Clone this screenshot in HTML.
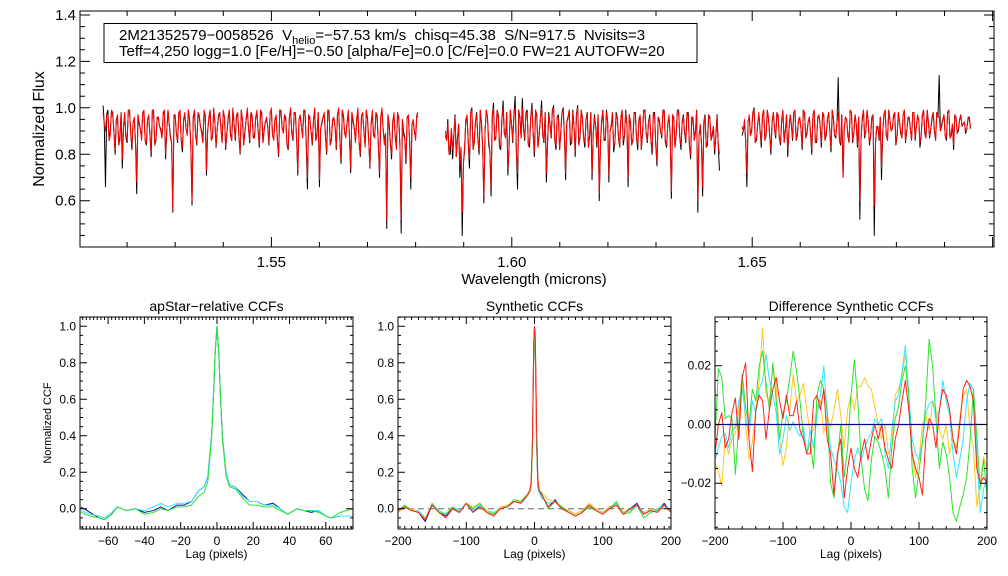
<!DOCTYPE html>
<html><head><meta charset="utf-8">
<style>
html,body{margin:0;padding:0;background:#fff;}
svg{display:block;font-family:"Liberation Sans",Arial,sans-serif;}
</style></head>
<body>
<svg id="fig" width="1008" height="576" viewBox="0 0 1008 576" xmlns="http://www.w3.org/2000/svg">
<rect x="0" y="0" width="1008" height="576" fill="#fff"/>
</svg>
<script>
// ---------- Spectrum data (wavelength grid: start + 0.0005 step; "Mid" arrays are offset by half a step) ----------
const chipStart = [1.5150, 1.5862, 1.6479];
const chipStep = 0.0005;
const c1obs = [1.01,0.66,0.99,0.90,0.97,0.80,0.96,0.88,0.74,0.97,0.85,0.99,0.82,0.95,0.63,0.93,0.87,0.98,0.84,0.96,0.79,0.99,0.86,0.95,0.91,0.97,0.78,0.99,0.88,0.55,0.96,0.85,0.98,0.81,0.97,0.89,0.94,0.58,0.99,0.84,0.96,0.90,0.98,0.71,0.95,0.87,0.99,0.83,0.96,0.92,0.98,0.82,0.95,0.89,0.99,0.86,0.97,0.80,0.94,0.90,0.99,0.85,0.96,0.88,0.98,0.83,0.97,0.91,0.95,0.84,0.99,0.87,0.96,0.79,0.98,0.90,0.95,0.82,0.99,0.86,0.97,0.71,0.96,0.88,0.98,0.65,0.95,0.84,0.99,0.89,0.66,0.93,0.97,0.80,0.98,0.87,0.95,0.82,0.99,0.76,0.96,0.88,0.98,0.72,0.94,0.86,0.99,0.79,0.97,0.84,0.95,0.74,0.98,0.88,0.96,0.70,0.99,0.85,0.48,0.93,0.78,0.97,0.83,0.95,0.46,0.90,0.76,0.96,0.65,0.94,0.87,0.98];
const c1mod = [0.98,0.90,0.97,0.88,0.98,0.82,0.97,0.86,0.78,0.98,0.86,0.99,0.84,0.96,0.68,0.94,0.86,0.99,0.85,0.97,0.81,0.99,0.87,0.96,0.90,0.98,0.80,0.99,0.87,0.56,0.97,0.86,0.99,0.83,0.98,0.88,0.95,0.60,0.99,0.85,0.97,0.89,0.99,0.73,0.96,0.86,1.00,0.84,0.97,0.91,0.99,0.83,0.96,0.88,1.00,0.87,0.98,0.81,0.95,0.89,1.00,0.86,0.97,0.87,0.99,0.84,0.98,0.90,0.96,0.85,1.00,0.86,0.97,0.80,0.99,0.89,0.96,0.83,1.00,0.87,0.98,0.73,0.97,0.87,0.99,0.70,0.96,0.85,1.00,0.88,0.69,0.94,0.98,0.81,0.99,0.86,0.96,0.83,1.00,0.78,0.97,0.87,0.99,0.74,0.95,0.85,1.00,0.80,0.98,0.83,0.96,0.75,0.99,0.87,0.97,0.72,1.00,0.84,0.52,0.92,0.80,0.98,0.82,0.96,0.52,0.88,0.78,0.97,0.70,0.95,0.86,0.96];
const c1modMid = [0.93,0.97,0.86,0.99,0.90,0.95,0.84,0.98,0.92,0.87,0.99,0.89,0.94,0.85,0.97,0.91,0.98,0.86,0.95,0.88,0.99,0.84,0.96,0.92,0.87,0.99,0.90,0.93,0.85,0.97,0.89,0.98,0.86,0.95,0.91,0.99,0.84,0.96,0.88,0.98,0.92,0.85,0.97,0.90,0.99,0.87,0.94,0.91,0.98,0.85,0.96,0.89,0.99,0.86,0.93,0.97,0.88,0.99,0.84,0.95,0.91,0.98,0.87,0.96,0.90,0.99,0.85,0.94,0.92,0.98,0.88,0.95,0.86,0.99,0.91,0.97,0.84,0.96,0.89,0.98,0.87,0.95,0.92,0.99,0.85,0.97,0.90,0.94,0.86,0.98,0.91,0.96,0.88,0.99,0.84,0.95,0.92,0.97,0.86,0.99,0.89,0.94,0.87,0.98,0.91,0.95,0.85,0.97,0.90,0.99,0.86,0.93,0.88,0.98,0.84,0.96,0.91,0.89,0.97,0.85,0.94,0.88,0.98,0.83,0.95,0.87,0.96,0.86,0.93,0.90,0.97];
const c2obs = [0.88,0.95,0.80,0.78,0.97,0.86,0.70,0.45,0.82,0.96,0.74,1.00,0.85,0.98,0.80,0.93,0.59,0.99,0.84,0.62,1.02,0.87,0.97,0.82,1.03,0.88,0.71,0.99,0.85,1.05,0.65,0.96,1.04,0.86,0.99,0.83,1.02,0.79,0.97,0.88,1.03,0.85,0.68,0.98,0.87,1.01,0.82,0.97,0.89,1.00,0.69,0.96,0.84,0.99,0.79,1.01,0.87,0.95,0.83,0.98,0.88,0.69,0.97,0.83,0.60,0.94,0.86,0.99,0.68,0.92,0.81,0.98,0.87,0.95,0.84,0.99,0.66,0.93,0.86,0.98,0.82,0.96,0.89,0.99,0.85,0.97,0.80,0.98,0.75,0.94,0.87,0.99,0.83,0.96,0.61,0.95,0.88,0.99,0.82,0.97,0.85,0.98,0.78,0.95,0.89,0.55,0.92,0.62,0.97,0.84,0.96,0.88,0.80,0.97,0.73];
const c2mod = [0.90,0.93,0.84,0.82,0.96,0.87,0.75,0.55,0.84,0.97,0.78,0.99,0.86,0.97,0.82,0.94,0.62,0.99,0.86,0.66,1.00,0.88,0.96,0.84,1.00,0.87,0.74,0.99,0.86,1.00,0.72,0.95,1.00,0.87,0.98,0.85,1.00,0.81,0.96,0.89,1.00,0.86,0.72,0.97,0.88,1.00,0.84,0.96,0.90,0.99,0.72,0.95,0.86,0.98,0.81,1.00,0.88,0.96,0.85,0.97,0.89,0.72,0.96,0.85,0.63,0.95,0.87,0.98,0.71,0.93,0.83,0.97,0.88,0.96,0.86,0.98,0.70,0.94,0.87,0.97,0.84,0.97,0.90,0.98,0.86,0.96,0.82,0.97,0.77,0.95,0.88,0.98,0.84,0.97,0.64,0.96,0.89,0.98,0.84,0.96,0.86,0.97,0.80,0.96,0.90,0.60,0.93,0.66,0.96,0.86,0.95,0.89,0.82,0.96,0.80];
const c2modMid = [0.86,0.80,0.91,0.88,0.79,0.93,0.83,0.76,0.95,0.85,0.98,0.82,0.94,0.87,0.99,0.83,0.90,0.96,0.81,0.97,0.86,0.99,0.83,0.95,0.89,0.98,0.84,0.93,0.97,0.82,0.99,0.87,0.91,0.98,0.84,0.96,0.89,0.99,0.83,0.95,0.88,0.98,0.85,0.93,0.99,0.86,0.96,0.82,0.98,0.88,0.94,0.99,0.85,0.92,0.97,0.84,0.99,0.87,0.95,0.83,0.98,0.89,0.92,0.97,0.84,0.99,0.86,0.94,0.90,0.98,0.85,0.96,0.83,0.99,0.88,0.93,0.97,0.84,0.98,0.87,0.95,0.82,0.99,0.89,0.94,0.86,0.98,0.84,0.96,0.90,0.99,0.85,0.93,0.88,0.97,0.83,0.99,0.87,0.94,0.89,0.98,0.84,0.96,0.86,0.99,0.88,0.85,0.94,0.83,0.97,0.86,0.92,0.88,0.84,0.90];
const c3obs = [0.88,0.93,0.66,0.96,0.90,1.00,0.86,0.97,0.83,0.99,0.88,0.95,0.80,0.98,0.87,0.96,0.84,0.99,0.90,0.79,0.97,0.86,0.99,0.88,0.95,0.82,0.98,0.89,0.96,0.80,0.99,0.85,0.97,0.83,0.96,0.88,0.98,0.81,0.95,0.87,1.13,0.84,0.70,0.96,0.88,0.99,0.85,0.97,0.83,0.52,0.95,0.87,0.99,0.84,0.96,0.45,0.91,0.86,0.69,0.97,0.88,0.99,0.90,0.96,0.84,0.98,0.89,0.97,0.85,0.95,0.91,0.98,0.86,0.96,0.83,0.97,0.89,0.99,0.87,0.95,0.90,0.98,1.14,0.92,0.97,0.86,0.99,0.88,0.82,0.96,0.90,0.97,0.93,0.89,0.95,0.91];
const c3mod = [0.92,0.95,0.72,0.97,0.91,0.99,0.87,0.98,0.85,0.99,0.89,0.96,0.82,0.98,0.88,0.97,0.85,0.99,0.90,0.82,0.97,0.87,0.99,0.89,0.96,0.84,0.98,0.90,0.96,0.82,0.99,0.86,0.97,0.85,0.97,0.89,0.98,0.83,0.96,0.88,0.98,0.85,0.70,0.96,0.89,0.99,0.86,0.97,0.84,0.60,0.96,0.88,0.99,0.85,0.96,0.58,0.92,0.87,0.74,0.97,0.89,0.99,0.90,0.97,0.85,0.98,0.90,0.97,0.86,0.96,0.91,0.98,0.87,0.97,0.85,0.97,0.90,0.99,0.88,0.96,0.91,0.98,0.96,0.93,0.97,0.87,0.99,0.89,0.84,0.96,0.91,0.97,0.93,0.90,0.96,0.92];
const c3modMid = [0.90,0.86,0.94,0.88,0.98,0.85,0.93,0.90,0.97,0.86,0.99,0.88,0.94,0.91,0.98,0.87,0.95,0.85,0.97,0.90,0.93,0.98,0.86,0.95,0.91,0.99,0.87,0.94,0.89,0.97,0.85,0.96,0.92,0.98,0.86,0.95,0.90,0.99,0.88,0.94,0.86,0.97,0.91,0.95,0.85,0.98,0.89,0.93,0.96,0.87,0.99,0.90,0.94,0.88,0.97,0.85,0.92,0.96,0.89,0.99,0.86,0.95,0.91,0.98,0.88,0.94,0.87,0.99,0.90,0.96,0.86,0.98,0.92,0.95,0.88,0.99,0.87,0.94,0.91,0.98,0.86,0.96,0.90,0.95,0.88,0.98,0.87,0.93,0.97,0.89,0.95,0.92,0.94,0.91,0.96,0.90];

// ---------- apStar-relative CCFs ----------
const lags1 = [-75,-70,-65,-62,-58,-55,-50,-45,-40,-35,-31,-27,-22,-18,-14,-10,-7,-5,-3,-2,-1,0,1,2,3,5,7,10,14,18,22,26,31,35,39,44,48,52,56,60,63,68,75];
const blue1 = [0.01,-0.02,-0.05,-0.06,-0.03,0.01,-0.01,0.00,-0.02,-0.01,0.01,-0.01,0.02,0.02,0.04,0.10,0.12,0.18,0.40,0.60,0.85,1.00,0.85,0.60,0.40,0.20,0.13,0.12,0.08,0.04,0.04,0.02,0.03,0.00,-0.03,0.00,-0.01,-0.02,-0.01,-0.04,-0.05,-0.04,-0.04];
const cyan1 = [-0.01,-0.03,-0.04,-0.05,-0.02,0.01,-0.01,0.00,-0.01,0.01,0.03,0.01,0.03,0.03,0.04,0.10,0.12,0.18,0.40,0.60,0.85,1.00,0.85,0.60,0.40,0.20,0.13,0.12,0.07,0.04,0.04,0.02,0.02,0.00,-0.03,0.00,-0.01,-0.01,-0.01,-0.04,-0.05,-0.04,-0.04];
const green1 = [-0.02,-0.04,-0.05,-0.06,-0.03,0.01,-0.01,0.00,-0.03,-0.02,0.00,-0.01,0.01,0.01,0.02,0.07,0.09,0.15,0.38,0.60,0.86,1.00,0.86,0.60,0.38,0.18,0.12,0.11,0.06,0.02,0.02,0.01,0.01,-0.01,-0.03,0.00,-0.01,-0.01,-0.02,-0.04,-0.05,-0.02,0.00];

// ---------- Synthetic CCFs ----------
const lags2 = [-200,-190,-180,-170,-160,-150,-140,-130,-120,-110,-100,-90,-80,-70,-60,-50,-40,-30,-20,-10,-7,-5,-3,-2,-1,0,1,2,3,5,7,10,20,30,40,50,60,70,80,90,100,110,120,130,140,150,160,170,180,190,200];
const blue2 = [-0.01,0.01,-0.01,-0.02,-0.07,0.02,-0.02,-0.04,0.00,-0.02,0.03,-0.02,0.02,-0.01,-0.03,0.00,0.01,0.04,0.03,0.07,0.09,0.12,0.35,0.65,0.90,1.00,0.90,0.65,0.35,0.12,0.09,0.08,0.01,0.05,0.00,-0.01,-0.03,-0.01,0.02,0.00,-0.02,0.01,0.02,-0.02,0.00,0.03,-0.03,0.00,-0.01,0.03,-0.02];
const cyan2 = [-0.01,0.02,-0.01,-0.01,-0.05,0.02,-0.01,-0.03,0.01,-0.01,0.03,-0.01,0.02,-0.01,-0.02,0.00,0.02,0.04,0.03,0.07,0.09,0.11,0.33,0.62,0.88,0.98,0.92,0.68,0.38,0.13,0.09,0.06,0.03,0.04,0.01,-0.01,-0.03,-0.01,0.02,0.00,-0.02,0.00,0.03,-0.02,-0.01,0.02,-0.02,-0.01,0.00,0.02,-0.01];
const green2 = [-0.01,0.02,-0.01,-0.02,-0.06,0.03,-0.02,-0.03,0.01,-0.02,0.03,0.00,0.03,-0.02,-0.03,0.00,0.01,0.05,0.04,0.08,0.10,0.13,0.36,0.64,0.89,0.99,0.93,0.70,0.40,0.14,0.10,0.09,0.00,0.04,0.01,-0.02,-0.04,-0.02,0.01,-0.01,-0.03,0.00,0.04,-0.03,-0.02,0.02,-0.05,-0.02,-0.01,0.02,-0.02];
const yellow2 = [-0.02,0.01,0.00,-0.02,-0.05,0.02,-0.02,-0.03,0.01,-0.02,0.03,0.01,0.03,-0.01,-0.03,0.01,0.02,0.04,0.04,0.07,0.09,0.11,0.32,0.60,0.86,0.97,0.94,0.72,0.42,0.15,0.10,0.09,0.05,0.04,0.01,-0.01,-0.03,-0.01,0.03,0.00,-0.02,0.01,0.02,-0.02,0.00,0.02,-0.03,0.00,-0.01,0.02,-0.02];
const red2 = [-0.01,0.01,-0.01,-0.02,-0.06,0.02,-0.02,-0.05,0.00,-0.02,0.03,-0.02,0.01,-0.02,-0.04,0.00,0.01,0.04,0.03,0.08,0.10,0.14,0.38,0.66,0.92,1.00,0.96,0.75,0.45,0.16,0.10,0.08,0.01,0.04,0.00,-0.02,-0.04,-0.02,0.02,-0.01,-0.03,0.00,0.02,-0.03,0.00,0.02,-0.03,-0.01,-0.02,0.02,-0.02];

// ---------- Difference Synthetic CCFs (lag = -200 + 5*i) ----------
const lag3Start = -200, lag3Step = 5;
const green3 = [-0.005,0.019,0.016,0.002,0.003,0.002,-0.017,0.000,0.017,0.006,0.000,0.012,0.008,0.020,0.025,0.014,0.005,0.021,0.008,-0.005,0.004,0.008,0.016,0.025,0.018,0.008,-0.004,-0.010,-0.006,-0.015,0.010,0.015,0.012,0.005,-0.020,-0.025,-0.012,0.000,-0.018,-0.008,0.010,0.022,0.008,-0.012,-0.022,-0.026,-0.012,-0.004,-0.006,-0.010,-0.015,-0.025,-0.008,0.002,0.006,0.015,0.020,0.010,-0.015,-0.025,-0.016,-0.006,0.008,0.029,0.020,0.002,-0.015,-0.006,-0.010,-0.018,-0.030,-0.033,-0.028,-0.024,-0.018,-0.006,0.012,-0.004,-0.022,-0.012,-0.024];
const yellow3 = [-0.013,-0.016,-0.021,-0.005,-0.010,-0.005,-0.003,0.005,0.017,0.000,-0.012,-0.006,0.005,0.015,0.033,0.010,0.008,0.020,0.013,-0.005,-0.014,-0.008,0.005,0.017,0.008,0.010,0.014,0.005,-0.003,-0.002,0.006,0.008,-0.003,0.003,-0.001,0.005,0.012,0.003,-0.008,0.005,0.010,0.005,0.013,0.013,0.016,0.013,0.012,0.006,0.000,-0.005,0.000,-0.010,-0.008,0.010,0.012,0.017,0.024,0.010,-0.010,-0.018,-0.012,0.000,0.003,-0.002,0.008,0.005,-0.002,-0.005,0.000,-0.010,-0.005,-0.008,0.002,0.010,0.012,-0.002,-0.008,-0.028,-0.020,-0.011,-0.015];
const cyan3 = [-0.012,-0.008,-0.004,-0.003,-0.008,-0.002,-0.001,0.008,0.012,0.003,-0.004,0.008,0.004,0.012,0.015,0.024,0.015,0.010,0.004,-0.010,-0.005,0.003,-0.002,0.001,-0.002,-0.004,-0.001,-0.010,-0.002,-0.008,0.003,0.010,0.020,0.003,-0.008,-0.012,-0.015,-0.020,-0.028,-0.030,-0.020,-0.012,-0.008,-0.012,-0.008,-0.005,-0.003,0.002,0.000,0.002,-0.010,-0.015,-0.002,0.008,0.010,0.018,0.027,0.010,-0.005,-0.010,-0.012,-0.006,0.004,0.007,0.008,0.002,0.005,0.015,0.008,0.003,-0.010,-0.018,-0.012,-0.005,0.008,0.014,0.012,-0.010,-0.030,-0.022,-0.018];
const red3 = [-0.010,0.000,0.004,-0.008,-0.005,0.004,0.009,-0.005,0.016,0.021,-0.005,-0.016,0.005,0.010,0.008,-0.005,0.005,0.012,0.016,0.008,0.002,0.010,0.003,0.003,0.008,-0.002,-0.005,-0.010,-0.010,0.008,0.010,0.005,0.012,-0.005,-0.010,-0.024,-0.010,-0.005,-0.025,-0.015,-0.008,-0.015,-0.018,-0.010,-0.005,-0.012,-0.005,0.000,-0.005,0.000,-0.008,-0.012,-0.015,-0.005,0.000,0.008,0.015,0.005,-0.010,-0.015,-0.018,-0.024,-0.005,0.002,0.000,-0.008,0.005,0.012,0.010,0.005,-0.005,-0.010,0.000,0.012,0.015,0.013,0.008,-0.015,-0.020,-0.018,-0.020];

// ---------- tick labels ----------
const topXTicks = [1.55, 1.60, 1.65];
const topYTicks = [0.6, 0.8, 1.0, 1.2, 1.4];
const p1XTicks = [-60,-40,-20,0,20,40,60];
const ccfYTicks = [0.0,0.2,0.4,0.6,0.8,1.0];
const p2XTicks = [-200,-100,0,100,200];
const p3YTicks = [-0.02,0.00,0.02];

const NS = "http://www.w3.org/2000/svg";
const svg = document.getElementById('fig');
function el(tag, attrs, parent) {
  const e = document.createElementNS(NS, tag);
  for (const k in attrs) e.setAttribute(k, attrs[k]);
  (parent || svg).appendChild(e);
  return e;
}
function txt(s, x, y, size, anchor, parent) {
  const t = el('text', {x:x, y:y, 'font-size':size, 'text-anchor':anchor||'middle', fill:'#000'}, parent);
  t.textContent = s;
  return t;
}
function axes(x0, x1, y0, y1, xmin, xmax, ymin, ymax) {
  return {
    x: v => x0 + (v - xmin) / (xmax - xmin) * (x1 - x0),
    y: v => y1 - (v - ymin) / (ymax - ymin) * (y1 - y0),
    x0, x1, y0, y1, xmin, xmax, ymin, ymax
  };
}
function ticks(ax, g, xMinor, xMajor, yMinor, yMajor, minLen, majLen) {
  let d = '';
  const eps = 1e-9;
  const xs = Math.ceil((ax.xmin - eps) / xMinor), xe = Math.floor((ax.xmax + eps) / xMinor);
  for (let i = xs; i <= xe; i++) {
    const v = i * xMinor;
    const maj = Math.abs(v / xMajor - Math.round(v / xMajor)) < 1e-6;
    const L = maj ? majLen : minLen, X = ax.x(v).toFixed(1);
    d += `M${X},${ax.y1}v${-L}M${X},${ax.y0}v${L}`;
  }
  const ys = Math.ceil((ax.ymin - eps) / yMinor), ye = Math.floor((ax.ymax + eps) / yMinor);
  for (let i = ys; i <= ye; i++) {
    const v = i * yMinor;
    const maj = Math.abs(v / yMajor - Math.round(v / yMajor)) < 1e-6;
    const L = maj ? majLen : minLen, Y = ax.y(v).toFixed(1);
    d += `M${ax.x0},${Y}h${L}M${ax.x1},${Y}h${-L}`;
  }
  el('path', {d:d, stroke:'#000', 'stroke-width':1, fill:'none'}, g);
  el('rect', {x:ax.x0, y:ax.y0, width:ax.x1-ax.x0, height:ax.y1-ax.y0, fill:'none', stroke:'#000', 'stroke-width':1}, g);
}
function line(xsArr, ysArr, ax, color, g, name, dash) {
  let pts = [];
  const n = Math.min(xsArr.length, ysArr.length);
  for (let i = 0; i < n; i++) pts.push(ax.x(xsArr[i]).toFixed(2) + ',' + ax.y(ysArr[i]).toFixed(2));
  const p = el('polyline', {points:pts.join(' '), fill:'none', stroke:color, 'stroke-width':1, 'stroke-linejoin':'round'}, g);
  if (dash) p.setAttribute('stroke-dasharray', dash);
  
  
  return p;
}
// interleave a main grid series with its half-step companion
function interleave(start, main, mid) {
  const w = [], f = [];
  for (let i = 0; i < main.length; i++) {
    w.push(start + i * chipStep); f.push(main[i]);
    if (i < mid.length && i < main.length - 1) { w.push(start + (i + 0.5) * chipStep); f.push(mid[i]); }
  }
  return {w, f};
}

// ================= TOP PANEL =================
const gTop = el('g', {});


const axT = axes(80, 994, 11, 247, 1.5102, 1.7003, 0.4004, 1.4172);
const clipT = el('clipPath', {id:'clipT'}, gTop);
el('rect', {x:80, y:11, width:914, height:236}, clipT);
const gSpec = el('g', {'clip-path':'url(#clipT)'}, gTop);
const obsArr = [c1obs, c2obs, c3obs], modArr = [c1mod, c2mod, c3mod], midArr = [c1modMid, c2modMid, c3modMid];
for (let c = 0; c < 3; c++) {
  const s = interleave(chipStart[c], obsArr[c], midArr[c]);
  line(s.w, s.f, axT, '#000', gSpec, 'observed-spectrum-chip-' + (c+1));
}
for (let c = 0; c < 3; c++) {
  const s = interleave(chipStart[c], modArr[c], midArr[c]);
  line(s.w, s.f, axT, '#ff0000', gSpec, 'model-spectrum-chip-' + (c+1));
}
ticks(axT, gTop, 0.01, 0.05, 0.05, 0.2, 5, 10);
topXTicks.forEach(v => {
  const t = txt(v.toFixed(2), axT.x(v), 267, 15, 'middle', gTop);
  
  
});
topYTicks.forEach(v => {
  const t = txt(v.toFixed(1), 76, axT.y(v) + 5, 15, 'end', gTop);
  
  
});
const xt = txt('Wavelength (microns)', 534, 284, 15, 'middle', gTop);


const yt = txt('Normalized Flux', 0, 0, 16, 'middle', gTop);
yt.setAttribute('transform', 'translate(44,129) rotate(-90)');



// info box
const gBox = el('g', {}, gTop);


el('rect', {x:104, y:23.5, width:593, height:39, fill:'#fff', stroke:'#000', 'stroke-width':1}, gBox);
const l1 = el('text', {x:119, y:40, 'font-size':15, fill:'#000'}, gBox);


l1.innerHTML = '2M21352579\u22120058526&#160;&#160;V<tspan font-size="11" dy="4">helio</tspan><tspan dy="-4">=\u221257.53 km/s&#160;&#160;chisq=45.38&#160;&#160;S/N=917.5&#160;&#160;Nvisits=3</tspan>';
const l2 = txt('Teff=4,250 logg=1.0 [Fe/H]=\u22120.50 [alpha/Fe]=0.0 [C/Fe]=0.0 FW=21 AUTOFW=20', 119, 56, 15, 'start', gBox);



// ================= BOTTOM PANELS =================
function panel(name, x0, x1, xmin, xmax, ymin, ymax, title, xMinor, xMajor, yMinor, yMajor) {
  const g = el('g', {});
  
  
  const ax = axes(x0, x1, 317, 529, xmin, xmax, ymin, ymax);
  const cp = el('clipPath', {id:'clip-' + name}, g);
  el('rect', {x:x0, y:317, width:x1-x0, height:212}, cp);
  const gc = el('g', {'clip-path':'url(#clip-' + name + ')'}, g);
  ticks(ax, g, xMinor, xMajor, yMinor, yMajor, 3, 7);
  const t = txt(title, (x0 + x1) / 2, 311, 14, 'middle', g);
  
  
  const xl = txt('Lag (pixels)', (x0 + x1) / 2, 558, 12, 'middle', g);
  
  
  return {g, gc, ax};
}
function fmtLag(v){ return v < 0 ? '\u2212' + Math.abs(v) : String(v); }

// Panel 1
const P1 = panel('apstar-ccf-panel', 80, 353, -75.5, 75, -0.111, 1.051, 'apStar\u2212relative CCFs', 2, 20, 0.05, 0.2);
line(lags1, blue1, P1.ax, '#1010a8', P1.gc, 'ccf-visit-1');
line(lags1, cyan1, P1.ax, '#30e8ff', P1.gc, 'ccf-visit-2');
line(lags1, green1, P1.ax, '#30e030', P1.gc, 'ccf-visit-3');
p1XTicks.forEach(v => { const t = txt(fmtLag(v), P1.ax.x(v), 545, 12, 'middle', P1.g);   });
ccfYTicks.forEach(v => { const t = txt(v.toFixed(1), 76, P1.ax.y(v) + 4, 12, 'end', P1.g);   });
const yl1 = txt('Normalized CCF', 0, 0, 11, 'middle', P1.g);
yl1.setAttribute('transform', 'translate(51,423) rotate(-90)');



// Panel 2
const P2 = panel('synthetic-ccf-panel', 398, 671, -200, 200, -0.111, 1.051, 'Synthetic CCFs', 10, 100, 0.05, 0.2);
const z2 = el('line', {x1:P2.ax.x(-200), x2:P2.ax.x(200), y1:P2.ax.y(0), y2:P2.ax.y(0), stroke:'#666', 'stroke-dasharray':'6,4', 'stroke-width':1}, P2.gc);


line(lags2, blue2, P2.ax, '#1010a8', P2.gc, 'synthetic-ccf-1');
line(lags2, cyan2, P2.ax, '#30e8ff', P2.gc, 'synthetic-ccf-2');
line(lags2, yellow2, P2.ax, '#ffc820', P2.gc, 'synthetic-ccf-3');
line(lags2, green2, P2.ax, '#30e030', P2.gc, 'synthetic-ccf-4');
line(lags2, red2, P2.ax, '#ff2020', P2.gc, 'synthetic-ccf-5');
p2XTicks.forEach(v => { const t = txt(fmtLag(v), P2.ax.x(v), 545, 12, 'middle', P2.g);   });
ccfYTicks.forEach(v => { const t = txt(v.toFixed(1), 394, P2.ax.y(v) + 4, 12, 'end', P2.g);   });

// Panel 3
const P3 = panel('difference-ccf-panel', 715, 987, -200, 200, -0.0356, 0.0366, 'Difference Synthetic CCFs', 20, 100, 0.005, 0.02);
const lag3 = green3.map((_, i) => lag3Start + i * lag3Step);
line(lag3, yellow3, P3.ax, '#ffc820', P3.gc, 'difference-ccf-yellow');
line(lag3, cyan3, P3.ax, '#30e8ff', P3.gc, 'difference-ccf-cyan');
line(lag3, green3, P3.ax, '#30e030', P3.gc, 'difference-ccf-green');
line(lag3, red3, P3.ax, '#ff2020', P3.gc, 'difference-ccf-red');
const z3 = el('line', {x1:P3.ax.x(-200), x2:P3.ax.x(200), y1:P3.ax.y(0), y2:P3.ax.y(0), stroke:'#00008b', 'stroke-width':1.3}, P3.gc);


p2XTicks.forEach(v => { const t = txt(fmtLag(v), P3.ax.x(v), 545, 12, 'middle', P3.g);   });
p3YTicks.forEach(v => { const t = txt(v < 0 ? '\u2212' + Math.abs(v).toFixed(2) : v.toFixed(2), 711, P3.ax.y(v) + 4, 12, 'end', P3.g);   });
</script>
</body></html>
